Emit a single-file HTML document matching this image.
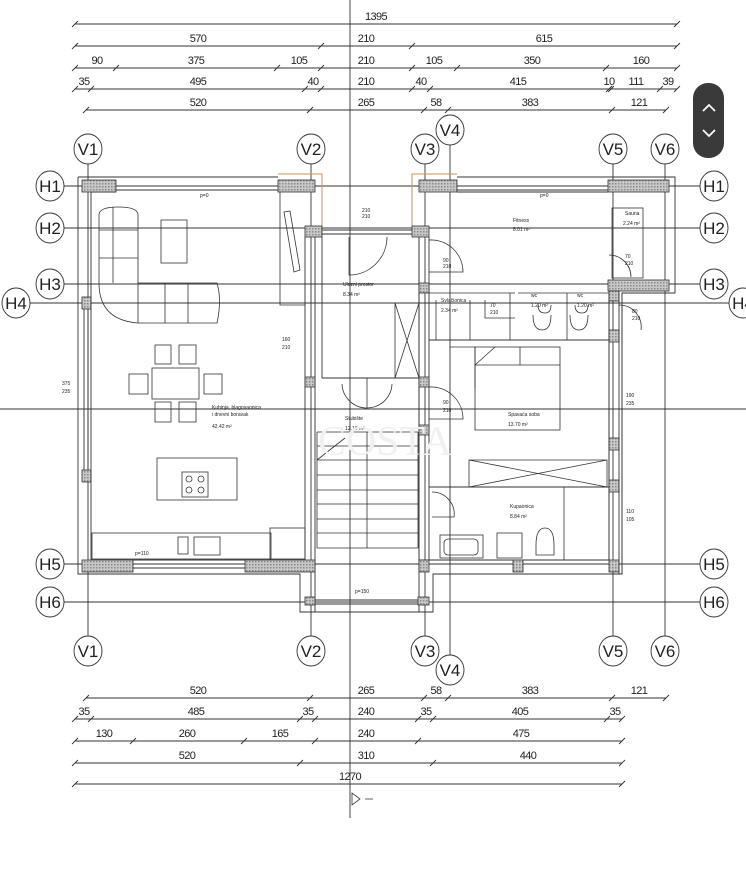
<!DOCTYPE html>
<html><head><meta charset="utf-8"><style>
html,body{margin:0;padding:0;background:#fff;width:746px;height:887px;overflow:hidden}
svg{display:block}
text{font-family:"Liberation Sans Narrow","Liberation Sans",sans-serif;fill:#222}
.d{font-size:11px;text-anchor:middle;letter-spacing:-0.6px}
.g{font-size:17px;text-anchor:middle;font-family:"Liberation Sans",sans-serif;fill:#333}
.s{font-size:5px}
</style></head><body>
<svg width="746" height="887" viewBox="0 0 746 887" xmlns="http://www.w3.org/2000/svg">
<defs><pattern id="h" width="3" height="3" patternUnits="userSpaceOnUse"><rect width="3" height="3" fill="#c8c8c8"/><rect width="1.5" height="1.5" fill="#8a8a8a"/></pattern></defs>
<g stroke="#333" stroke-width="0.9" fill="none">
<line x1="350" y1="0" x2="350" y2="818"/>
<line x1="0" y1="409" x2="746" y2="409"/>
<line x1="75" y1="24" x2="677" y2="24"/>
<line x1="75" y1="46" x2="677" y2="46"/>
<line x1="75" y1="68" x2="677" y2="68"/>
<line x1="75" y1="89" x2="677" y2="89"/>
<line x1="86" y1="110" x2="666" y2="110"/>
<line x1="86" y1="698" x2="666" y2="698"/>
<line x1="75" y1="719" x2="622" y2="719"/>
<line x1="75" y1="741" x2="622" y2="741"/>
<line x1="75" y1="763" x2="622" y2="763"/>
<line x1="75" y1="784" x2="622" y2="784"/>
<path d="M72 27l6-6M674 27l6-6
M72 49l6-6M318 49l6-6M409 49l6-6M674 49l6-6
M72 71l6-6M113 71l6-6M274 71l6-6M318 71l6-6M409 71l6-6M454 71l6-6M603 71l6-6M674 71l6-6
M72 92l6-6M88 92l6-6M302 92l6-6M318 92l6-6M409 92l6-6M427 92l6-6M606 92l6-6M608 92l6-6M657 92l6-6M674 92l6-6
M83 113l6-6M307 113l6-6M421 113l6-6M445 113l6-6M609 113l6-6M663 113l6-6
M83 701l6-6M307 701l6-6M421 701l6-6M445 701l6-6M609 701l6-6M663 701l6-6
M72 722l6-6M88 722l6-6M297 722l6-6M312 722l6-6M415 722l6-6M430 722l6-6M604 722l6-6M619 722l6-6
M72 744l6-6M130 744l6-6M241 744l6-6M312 744l6-6M415 744l6-6M619 744l6-6
M72 766l6-6M297 766l6-6M430 766l6-6M619 766l6-6
M72 787l6-6M619 787l6-6"/>
<line x1="88" y1="164" x2="88" y2="636"/>
<line x1="311" y1="164" x2="311" y2="636"/>
<line x1="425" y1="164" x2="425" y2="636"/>
<line x1="450" y1="145" x2="450" y2="655"/>
<line x1="613" y1="164" x2="613" y2="636"/>
<line x1="665" y1="164" x2="665" y2="636"/>
<line x1="64" y1="186" x2="700" y2="186"/>
<line x1="64" y1="228" x2="700" y2="228"/>
<line x1="64" y1="284" x2="700" y2="284"/>
<line x1="30" y1="303" x2="729" y2="303"/>
<line x1="64" y1="564" x2="700" y2="564"/>
<line x1="64" y1="602" x2="700" y2="602"/>
<ellipse cx="88" cy="149" rx="14" ry="15"/><ellipse cx="311" cy="149" rx="14" ry="15"/><ellipse cx="425" cy="149" rx="14" ry="15"/><ellipse cx="450" cy="130" rx="14" ry="15"/><ellipse cx="613" cy="149" rx="14" ry="15"/><ellipse cx="665" cy="149" rx="14" ry="15"/>
<ellipse cx="88" cy="651" rx="14" ry="15"/><ellipse cx="311" cy="651" rx="14" ry="15"/><ellipse cx="425" cy="651" rx="14" ry="15"/><ellipse cx="450" cy="670" rx="14" ry="15"/><ellipse cx="613" cy="651" rx="14" ry="15"/><ellipse cx="665" cy="651" rx="14" ry="15"/>
<ellipse cx="50" cy="186" rx="14" ry="15"/><ellipse cx="50" cy="228" rx="14" ry="15"/><ellipse cx="50" cy="284" rx="14" ry="15"/><ellipse cx="16" cy="303" rx="14" ry="15"/><ellipse cx="50" cy="564" rx="14" ry="15"/><ellipse cx="50" cy="602" rx="14" ry="15"/>
<ellipse cx="714" cy="186" rx="14" ry="15"/><ellipse cx="714" cy="228" rx="14" ry="15"/><ellipse cx="714" cy="284" rx="14" ry="15"/><ellipse cx="743" cy="303" rx="14" ry="15"/><ellipse cx="714" cy="564" rx="14" ry="15"/><ellipse cx="714" cy="602" rx="14" ry="15"/>
<path d="M78 177H278M78 177V574H300V612H433V574H622V293H675V177H457"/>
<path d="M91 192V560H305M91 192H116M419 237V560H609V293M457 192H608"/>
<path d="M305 237V560M315 237V612M419 237V612M429 237V560M322 237V378M412 237"/>
<path d="M116 186H278M116 190H278M457 186H608M457 190H608M322 230H412M322 234H412M133 564H245M133 568H245M315 600H418M315 604H418M84 300V470M88 300V470"/>
<path d="M609 293V560M619 293V574M622 293V574"/>
<path d="M322 378H419M429 340H609M429 487H609"/>
</g>
<path d="M278 174H322V226M412 226V174H457" stroke="#c8915a" stroke-width="1" fill="none"/>
<g fill="url(#h)" stroke="#333" stroke-width="0.8">
<rect x="82" y="180" width="34" height="12"/><rect x="278" y="180" width="37" height="12"/>
<rect x="419" y="180" width="38" height="12"/><rect x="608" y="180" width="61" height="12"/>
<rect x="305" y="226" width="17" height="11"/><rect x="412" y="226" width="17" height="11"/>
<rect x="608" y="280" width="61" height="11"/><rect x="609" y="291" width="10" height="10"/>
<rect x="419" y="283" width="10" height="10"/>
<rect x="82" y="297" width="9" height="12"/><rect x="82" y="470" width="9" height="12"/>
<rect x="82" y="560" width="51" height="12"/><rect x="245" y="560" width="70" height="12"/>
<rect x="305" y="377" width="10" height="10"/><rect x="419" y="377" width="10" height="10"/><rect x="419" y="425" width="10" height="10"/>
<rect x="419" y="560" width="10" height="12"/><rect x="513" y="560" width="10" height="12"/><rect x="609" y="560" width="10" height="12"/>
<rect x="609" y="330" width="10" height="12"/><rect x="609" y="438" width="10" height="12"/><rect x="609" y="480" width="10" height="12"/>
<rect x="305" y="597" width="10" height="8"/><rect x="418" y="597" width="11" height="8"/>
</g>
<g stroke="#333" stroke-width="0.8" fill="none">
<path d="M99 215Q99 207 118 207Q138 207 138 215V283H217Q222 300 217 323H138Q99 320 99 283Z"/>
<path d="M113 207V283M99 230H138M99 258H138M138 283V323M165 283V323M188 283V323"/>
<rect x="161" y="220" width="26" height="43"/>
<path d="M284 212L290 211L300 270L294 272Z"/>
<path d="M280 192V305H305"/>
<path d="M349 237V275A38 38 0 0 0 387 237"/>
<rect x="152" y="368" width="47" height="31"/>
<rect x="155" y="345" width="16" height="19"/><rect x="179" y="345" width="17" height="19"/>
<rect x="155" y="402" width="16" height="20"/><rect x="179" y="402" width="17" height="20"/>
<rect x="129" y="374" width="19" height="20"/><rect x="204" y="374" width="18" height="20"/>
<rect x="157" y="458" width="80" height="42"/><rect x="182" y="472" width="26" height="25"/>
<circle cx="189" cy="479" r="3"/><circle cx="201" cy="479" r="3"/><circle cx="189" cy="490" r="3"/><circle cx="201" cy="490" r="3"/>
<rect x="92" y="533" width="179" height="26"/><rect x="270" y="528" width="35" height="31"/>
<rect x="178" y="537" width="10" height="17"/><rect x="194" y="537" width="26" height="18"/>
<path d="M395 303V378H419V303ZM395 303L419 378M419 303L395 378"/>
<path d="M367 378V408A25 25 0 0 1 342 384M367 408A25 25 0 0 0 392 384"/>
<path d="M317 432H418M317 446H418M317 460H418M317 475H418M317 490H418M317 504H418M317 519H418M317 533H418M317 548H418M367 432V548M317 432V548M418 432V548M317 460L345 438"/>
<rect x="475" y="347" width="85" height="83"/><path d="M475 365H560M475 365L495 347M520 347V365M450 347H475V388"/>
<path d="M469 460H607V487H469ZM469 460L607 487M607 460L469 487"/>
<rect x="440" y="535" width="43" height="23"/><rect x="444" y="539" width="34" height="16" rx="4"/>
<rect x="497" y="533" width="25" height="25"/>
<path d="M536 545Q536 528 545 528Q554 528 554 545V555H536Z"/>
<path d="M564 487V560M538 305Q538 313 545 313Q551 313 551 305M575 305Q575 313 582 313Q588 313 588 305M533 315Q533 330 542 330Q551 330 551 315M570 315Q570 330 579 330Q588 330 588 315"/>
<path d="M429 293H515M518 293H609M510 293V340M567 293V340M470 300V340M436 300V340"/>
<path d="M429 240A32 32 0 0 1 463 272H429M429 387A32 32 0 0 1 463 419H429M432 492A22 22 0 0 1 454 517H432M609 255A22 22 0 0 1 631 277M619 305A22 22 0 0 1 641 330"/>
<rect x="612" y="208" width="31" height="70"/>
<path d="M485 300V318H515"/>
</g>
<g class="d">
<text x="376" y="20">1395</text>
<text x="198" y="42">570</text><text x="366" y="42">210</text><text x="544" y="42">615</text>
<text x="97" y="64">90</text><text x="196" y="64">375</text><text x="299" y="64">105</text><text x="366" y="64">210</text><text x="434" y="64">105</text><text x="532" y="64">350</text><text x="641" y="64">160</text>
<text x="84" y="85">35</text><text x="198" y="85">495</text><text x="313" y="85">40</text><text x="366" y="85">210</text><text x="421" y="85">40</text><text x="518" y="85">415</text><text x="609" y="85">10</text><text x="636" y="85">111</text><text x="668" y="85">39</text>
<text x="198" y="106">520</text><text x="366" y="106">265</text><text x="436" y="106">58</text><text x="530" y="106">383</text><text x="639" y="106">121</text>
<text x="198" y="694">520</text><text x="366" y="694">265</text><text x="436" y="694">58</text><text x="530" y="694">383</text><text x="639" y="694">121</text>
<text x="84" y="715">35</text><text x="196" y="715">485</text><text x="308" y="715">35</text><text x="366" y="715">240</text><text x="426" y="715">35</text><text x="520" y="715">405</text><text x="615" y="715">35</text>
<text x="104" y="737">130</text><text x="187" y="737">260</text><text x="280" y="737">165</text><text x="366" y="737">240</text><text x="521" y="737">475</text>
<text x="187" y="759">520</text><text x="366" y="759">310</text><text x="528" y="759">440</text>
<text x="350" y="780">1270</text>
</g>
<path d="M352 793V805L360 799Z M365 799H373" stroke="#333" stroke-width="0.8" fill="none"/>
<g class="g">
<text x="88" y="155">V1</text><text x="311" y="155">V2</text><text x="425" y="155">V3</text><text x="450" y="136">V4</text><text x="613" y="155">V5</text><text x="665" y="155">V6</text>
<text x="88" y="657">V1</text><text x="311" y="657">V2</text><text x="425" y="657">V3</text><text x="450" y="676">V4</text><text x="613" y="657">V5</text><text x="665" y="657">V6</text>
<text x="50" y="192">H1</text><text x="50" y="234">H2</text><text x="50" y="290">H3</text><text x="16" y="309">H4</text><text x="50" y="570">H5</text><text x="50" y="608">H6</text>
<text x="714" y="192">H1</text><text x="714" y="234">H2</text><text x="714" y="290">H3</text><text x="743" y="309">H4</text><text x="714" y="570">H5</text><text x="714" y="608">H6</text>
</g>
<g class="s">
<text x="200" y="197">p=0</text><text x="540" y="197">p=0</text>
<text x="513" y="222">Fitness</text><text x="513" y="231">8.01 m²</text>
<text x="625" y="215">Sauna</text><text x="623" y="225">2.24 m²</text>
<text x="343" y="286">Ulazni prostor</text><text x="343" y="296">8.34 m²</text>
<text x="441" y="302">Svlačionica</text><text x="441" y="312">2.34 m²</text>
<text x="531" y="297">wc</text><text x="531" y="307">1.20 m²</text><text x="577" y="297">wc</text><text x="577" y="307">1.20 m²</text>
<text x="212" y="409">Kuhinja, blagovaonica</text><text x="212" y="416">i dnevni boravak</text><text x="212" y="428">42.42 m²</text>
<text x="345" y="420">Stubište</text><text x="345" y="430">12.10 m²</text>
<text x="508" y="416">Spavaća soba</text><text x="508" y="426">13.70 m²</text>
<text x="510" y="508">Kupaonica</text><text x="510" y="518">8.84 m²</text>
<text x="135" y="555">p=110</text><text x="355" y="593">p=150</text>
<text x="282" y="341">160</text><text x="282" y="349">210</text>
<text x="62" y="385">375</text><text x="62" y="393">235</text>
<text x="626" y="397">190</text><text x="626" y="405">235</text>
<text x="626" y="513">110</text><text x="626" y="521">105</text>
<text x="443" y="262">90</text><text x="443" y="268">210</text>
<text x="443" y="404">90</text><text x="443" y="412">210</text>
<text x="625" y="258">70</text><text x="625" y="265">210</text>
<text x="632" y="313">80</text><text x="632" y="320">210</text>
<text x="490" y="307">70</text><text x="490" y="314">210</text>
<text x="362" y="212">210</text><text x="362" y="218">210</text>
</g>
<text x="385" y="455" style="font-family:'Liberation Serif',serif;font-size:42px;fill:#f0f0f0;text-anchor:middle">COSTA</text>
<rect x="693" y="83" width="31" height="75" rx="15" fill="#3a3a3a"/>
<path d="M703 111L709 105L715 111M703 130L709 136L715 130" stroke="#fff" stroke-width="1.8" fill="none"/>
</svg>
</body></html>
